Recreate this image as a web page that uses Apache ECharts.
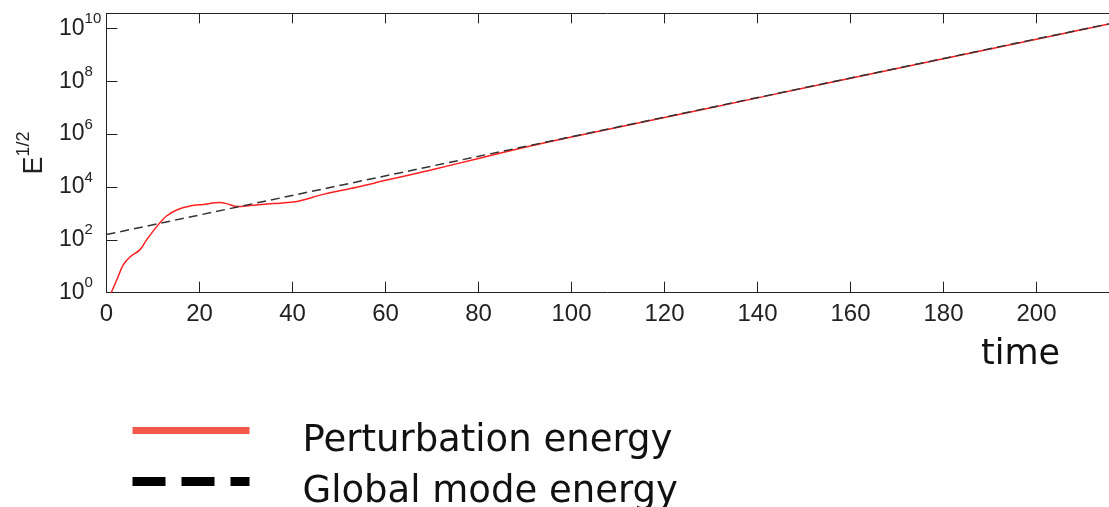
<!DOCTYPE html>
<html>
<head>
<meta charset="utf-8">
<script src="https://cdn.jsdelivr.net/npm/echarts@6/dist/echarts.min.js"></script>
<style>
html,body{margin:0;padding:0;background:#fff;}
#chart{width:1109px;height:507px;}
</style>
</head>
<body>
<div id="chart"></div>
<script>
// ---- data (E^{1/2} shown as powers of ten: values are log10 exponents) ----
const xTicksStep = 20;
const yExponentTicks = [0, 2, 4, 6, 8, 10];
const perturbTime = [1, 2.2, 3.6, 5.1, 7.1, 8.6, 10.8, 12.9, 15.1, 18, 20.8, 24.4, 25.8, 28.2, 30.9, 35.9, 40.2, 42.3, 46.6, 53.8, 60.3, 70, 80, 90, 100, 120, 140, 160, 180, 200, 215.6];
const perturbExp = [0, 0.48, 1.05, 1.36, 1.61, 1.99, 2.5, 2.9, 3.13, 3.28, 3.34, 3.41, 3.37, 3.26, 3.3, 3.37, 3.43, 3.51, 3.72, 3.99, 4.26, 4.65, 5.08, 5.5, 5.89, 6.63, 7.37, 8.11, 8.85, 9.59, 10.17];
const globalTime = [0, 50, 100, 150, 200, 215.6];
const globalExp = [2.2, 4.05, 5.9, 7.75, 9.6, 10.17];
const seriesNames = ['Perturbation energy', 'Global mode energy'];

const pairs = (xs, ys) => xs.map((x, i) => [x, ys[i]]);

const chart = echarts.init(document.getElementById('chart'), null, {renderer: 'canvas'});
const axisColor = '#222';
const labelFont = '"Liberation Sans", Arial, sans-serif';

chart.setOption({
  animation: false,
  backgroundColor: '#fff',
  grid: {left: 106.5, right: 0, top: 13.3, bottom: 214.3, containLabel: false},
  legend: {
    orient: 'vertical',
    left: 128,
    top: 401,
    height: 140,
    padding: 0,
    itemWidth: 117,
    itemHeight: 9,
    itemGap: -8,
    selectedMode: false,
    formatter: name => '{t|' + name + '}',
    textStyle: {
      fontFamily: 'DejaVu Sans', fontSize: 37, color: '#111',
      rich: {t: {fontFamily: 'DejaVu Sans', fontSize: 37, color: '#111', lineHeight: 30, padding: [22, 0, 0, 48]}}
    },
    data: [
      {name: seriesNames[0], lineStyle: {color: '#f5584a', width: 7, type: 'solid'}, itemStyle: {color: 'transparent', borderWidth: 0}},
      {name: seriesNames[1], lineStyle: {color: '#000', width: 9, type: [33, 16]}, itemStyle: {color: 'transparent', borderWidth: 0}}
    ]
  },
  xAxis: [{
    type: 'value', position: 'bottom', min: 0, max: 215.6, interval: xTicksStep,
    name: 'time', nameLocation: 'end', nameGap: -128,
    nameTextStyle: {fontFamily: 'DejaVu Sans', fontSize: 35, color: '#111', align: 'left', verticalAlign: 'top', padding: [45, 0, 0, 0]},
    axisLine: {show: true, lineStyle: {color: axisColor, width: 1}},
    axisTick: {show: true, inside: true, length: 11, lineStyle: {color: axisColor}},
    axisLabel: {showMaxLabel: false, fontFamily: labelFont, fontSize: 24, color: '#222', margin: 10},
    splitLine: {show: false}
  }, {
    type: 'value', position: 'top', min: 0, max: 215.6, interval: xTicksStep,
    axisLine: {show: true, lineStyle: {color: axisColor, width: 1}},
    axisTick: {show: true, inside: true, length: 10, lineStyle: {color: axisColor}},
    axisLabel: {show: false},
    splitLine: {show: false}
  }],
  yAxis: {
    type: 'value', min: yExponentTicks[0], max: 10.57, interval: 2,
    name: '{e|E}{s|1/2}', nameLocation: 'middle', nameRotate: 90, nameGap: 51,
    nameTextStyle: {
      rich: {
        e: {fontFamily: labelFont, fontSize: 27, color: '#222'},
        s: {fontFamily: labelFont, fontSize: 18, color: '#222', padding: [0, 0, 22, 0]}
      }
    },
    axisLine: {show: true, lineStyle: {color: axisColor, width: 1}},
    axisTick: {show: true, inside: true, length: 11, lineStyle: {color: axisColor}},
    axisLabel: {
      showMaxLabel: false, align: 'left', margin: 47.5,
      formatter: v => '{b|10}{s|' + v + '}',
      rich: {
        b: {fontFamily: labelFont, fontSize: 23, color: '#222'},
        s: {fontFamily: labelFont, fontSize: 15, color: '#222', padding: [0, 0, 19, 0]}
      }
    },
    splitLine: {show: false}
  },
  series: [{
    name: seriesNames[0], type: 'line', xAxisIndex: 0,
    data: pairs(perturbTime, perturbExp),
    showSymbol: false, symbol: 'none', smooth: 0.35,
    lineStyle: {color: '#ff2020', width: 1.5},
    itemStyle: {color: '#f5584a'},
    z: 2
  }, {
    name: seriesNames[1], type: 'line', xAxisIndex: 0,
    data: pairs(globalTime, globalExp),
    showSymbol: false, symbol: 'none',
    lineStyle: {color: '#333', width: 1.5, type: [9, 5]},
    itemStyle: {color: '#000'},
    z: 3
  }]
});
</script>
</body>
</html>
